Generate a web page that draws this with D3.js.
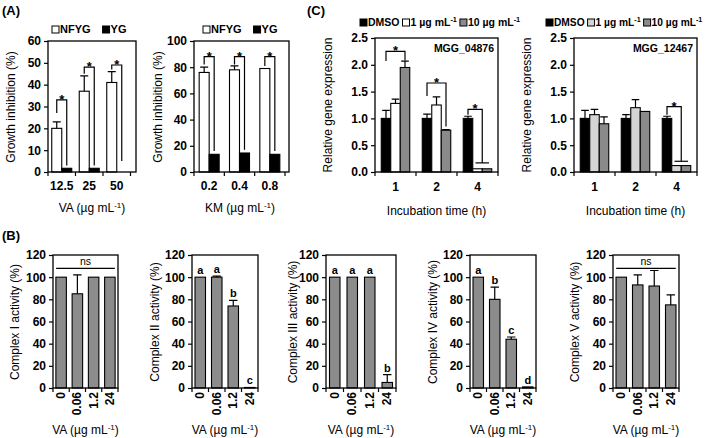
<!DOCTYPE html>
<html>
<head>
<meta charset="utf-8" />
<script src="https://d3js.org/d3.v7.min.js"></script>
<style>
  body { margin: 0; background: #fff; }
  svg text { font-family: "Liberation Sans", Arial, sans-serif; fill: #000; }
</style>
</head>
<body>
<svg id="fig" width="709" height="438"></svg>
<script>
// (A) growth inhibition
const vaConc = ["12.5", "25", "50"];
const nfygVA = [20, 37, 41];
const nfygVAErr = [3, 7, 5];
const ygVA = [1.7, 1.7, 0];
const kmConc = ["0.2", "0.4", "0.8"];
const nfygKM = [76, 78, 79];
const nfygKMErr = [4, 3, 0];
const ygKM = [13.5, 14.5, 13.5];
// significance brackets [top, left leg end, right leg end] in data units
const sigVA = [[33, 27, 3], [48, 45, 3], [49, 47, 5]];
const sigKM = [[88, 82, 16], [88, 82, 17], [88, 81, 16]];

// (B) complex activities
const vaDose = ["0", "0.06", "1.2", "24"];
const complexI = [100, 85, 100, 100];
const complexIErr = [0, 17, 0, 0];
const complexII = [100, 100, 74, 0.5];
const complexIIErr = [0, 1, 5, 0];
const complexIII = [100, 100, 100, 5];
const complexIIIErr = [0, 0, 0, 7];
const complexIV = [100, 80, 44, 1];
const complexIVErr = [0, 11, 2, 0];
const complexV = [100, 93, 92, 75];
const complexVErr = [0, 9, 14, 9];
const lettersII = ["a", "a", "b", "c"];
const lettersIII = ["a", "a", "a", "b"];
const lettersIV = ["a", "b", "c", "d"];

// (C) gene expression
const hours = ["1", "2", "4"];
const dmso04876 = [1.0, 1.0, 1.0];
const dmso04876Err = [0.15, 0.08, 0.04];
const low04876 = [1.28, 1.25, 0.06];
const low04876Err = [0.08, 0.15, 0];
const high04876 = [1.95, 0.78, 0.06];
const high04876Err = [0.12, 0.01, 0];
const dmso12467 = [1.0, 1.0, 1.0];
const dmso12467Err = [0.15, 0.07, 0.04];
const low12467 = [1.07, 1.2, 0.12];
const low12467Err = [0.1, 0.15, 0];
const high12467 = [0.9, 1.13, 0.12];
const high12467Err = [0.13, 0, 0];
const sig04876 = [[2.25, 2.07, 2.08], [1.66, 1.42, 0.85], [1.17, 1.07, 0.17]];
const sig12467 = [[1.22, 1.07, 0.2]];

const svg = d3.select("#fig");

function drawPanel(o) {
  const g = svg.append("g");
  const x = d3.scaleBand().domain(o.cats).range([o.left, o.right]);
  const y = d3.scaleLinear().domain([0, o.yMax]).range([o.bottom, o.top]);
  const n = o.series.length;
  const cx = (c, i) => x(c) + x.bandwidth() / 2 + (i - (n - 1) / 2) * o.barW;

  g.append("g")
    .attr("transform", `translate(${o.left},0)`)
    .call(d3.axisLeft(y).tickValues(o.yTicks).tickSize(4).tickPadding(3).tickFormat(o.fmt))
    .call(a => a.select(".domain").remove())
    .call(a => a.selectAll("line").attr("stroke-width", 1.2))
    .call(a => a.selectAll("text").attr("font-weight", "bold").attr("font-size", 12).attr("fill", "#000"));

  const bounds = o.cats.map(c => x(c)).concat([o.right]);
  g.selectAll(null).data(bounds).join("line")
    .attr("x1", d => d).attr("x2", d => d)
    .attr("y1", o.bottom).attr("y2", o.bottom + 4)
    .attr("stroke", "#000").attr("stroke-width", 1.2);

  o.series.forEach((s, i) => {
    g.selectAll(null).data(o.cats).join("rect")
      .attr("x", c => cx(c, i) - o.barW / 2)
      .attr("y", (c, j) => y(s.vals[j]))
      .attr("width", o.barW)
      .attr("height", (c, j) => o.bottom - y(s.vals[j]))
      .attr("fill", s.fill).attr("stroke", "#000").attr("stroke-width", 1.1);
    if (!s.errs) return;
    const eb = o.cats.map((c, j) => ({ c, v: s.vals[j], e: s.errs[j] })).filter(d => d.e > 0);
    const cap = o.barW * 0.4;
    g.selectAll(null).data(eb).join("path")
      .attr("d", d => `M${cx(d.c, i)},${y(d.v)}V${y(d.v + d.e)}M${cx(d.c, i) - cap},${y(d.v + d.e)}H${cx(d.c, i) + cap}`)
      .attr("fill", "none").attr("stroke", "#000").attr("stroke-width", 1.2);
  });

  g.append("rect")
    .attr("x", o.left).attr("y", o.top)
    .attr("width", o.boxRight - o.left).attr("height", o.bottom - o.top)
    .attr("fill", "none").attr("stroke", "#000").attr("stroke-width", 1.3);

  return { g, x, y, cx };
}

function bracket(g, x1, x2, yTop, yL, yR) {
  g.append("path")
    .attr("d", `M${x1},${yL}V${yTop}H${x2}V${yR}`)
    .attr("fill", "none").attr("stroke", "#000").attr("stroke-width", 1.2);
  g.append("text").attr("x", (x1 + x2) / 2).attr("y", yTop + 4)
    .attr("text-anchor", "middle").attr("font-weight", "bold").attr("font-size", 13).text("*");
}

function yTitle(x, y, label) {
  svg.append("text").attr("transform", `translate(${x},${y}) rotate(-90)`)
    .attr("text-anchor", "middle").attr("dominant-baseline", "central")
    .attr("font-size", 12).text(label);
}

function unitTitle(x, y, prefix) {
  const t = svg.append("text").attr("x", x).attr("y", y).attr("text-anchor", "middle").attr("font-size", 12);
  t.append("tspan").text(prefix + " (µg mL");
  t.append("tspan").attr("dy", -4).attr("font-size", 8).text("-1");
  t.append("tspan").attr("dy", 4).text(")");
}

function catLabels(p, cats, yy) {
  p.g.selectAll(null).data(cats).join("text")
    .attr("x", c => p.x(c) + p.x.bandwidth() / 2).attr("y", yy)
    .attr("text-anchor", "middle").attr("font-weight", "bold").attr("font-size", 12)
    .text(c => c);
}

function legend(x0, y0, items, fs) {
  let x = x0;
  items.forEach(it => {
    svg.append("rect").attr("x", x).attr("y", y0 - 7).attr("width", 7).attr("height", 7)
      .attr("fill", it.fill).attr("stroke", "#000").attr("stroke-width", 1);
    const t = svg.append("text").attr("x", x + 8).attr("y", y0).attr("font-size", fs).attr("font-weight", "bold");
    t.append("tspan").text(it.label);
    if (it.sup) t.append("tspan").attr("dy", -4).attr("font-size", fs * 0.7).text(it.sup);
    x += 8 + t.node().getComputedTextLength() + it.gap;
  });
}

// ---------- (A) ----------
const pA1 = drawPanel({
  cats: vaConc, left: 48, right: 130.5, boxRight: 136, top: 41, bottom: 172,
  yMax: 60, yTicks: d3.range(0, 61, 10), fmt: d3.format("d"), barW: 10,
  series: [{ vals: nfygVA, errs: nfygVAErr, fill: "#fff" }, { vals: ygVA, fill: "#000" }]
});
sigVA.forEach((s, j) => bracket(pA1.g, pA1.cx(vaConc[j], 0), pA1.cx(vaConc[j], 1), pA1.y(s[0]), pA1.y(s[1]), pA1.y(s[2])));
catLabels(pA1, vaConc, 190);

const pA2 = drawPanel({
  cats: kmConc, left: 194, right: 285, boxRight: 289, top: 41, bottom: 172,
  yMax: 100, yTicks: d3.range(0, 101, 20), fmt: d3.format("d"), barW: 10,
  series: [{ vals: nfygKM, errs: nfygKMErr, fill: "#fff" }, { vals: ygKM, fill: "#000" }]
});
sigKM.forEach((s, j) => bracket(pA2.g, pA2.cx(kmConc[j], 0), pA2.cx(kmConc[j], 1), pA2.y(s[0]), pA2.y(s[1]), pA2.y(s[2])));
catLabels(pA2, kmConc, 190);

yTitle(11, 107, "Growth inhibition (%)");
yTitle(158, 107, "Growth inhibition (%)");
unitTitle(92, 212, "VA");
unitTitle(240, 212, "KM");
legend(52, 33, [{ label: "NFYG", fill: "#fff", gap: 12 }, { label: "YG", fill: "#000", gap: 0 }], 11);
legend(203, 33, [{ label: "NFYG", fill: "#fff", gap: 12 }, { label: "YG", fill: "#000", gap: 0 }], 11);

// ---------- (C) ----------
function genePanel(left, right, dmso, dmsoE, low, lowE, high, highE, lowFill, sig, name) {
  const p = drawPanel({
    cats: hours, left, right, boxRight: right, top: 38, bottom: 172,
    yMax: 2.5, yTicks: d3.range(0, 2.51, 0.5), fmt: d3.format(".1f"), barW: 9.5,
    series: [
      { vals: dmso, errs: dmsoE, fill: "#000" },
      { vals: low, errs: lowE, fill: lowFill },
      { vals: high, errs: highE, fill: "#8a8a8a" }
    ]
  });
  const off = hours.length - sig.length;
  sig.forEach((s, k) => {
    const c = hours[k + off];
    if (c === "4") {
      const xm = (p.cx(c, 1) + p.cx(c, 2)) / 2;
      bracket(p.g, p.cx(c, 0), xm, p.y(s[0]), p.y(s[1]), p.y(s[2]));
      p.g.append("line").attr("x1", p.cx(c, 1) - 2).attr("x2", p.cx(c, 2) + 2)
        .attr("y1", p.y(s[2])).attr("y2", p.y(s[2])).attr("stroke", "#000").attr("stroke-width", 1.2);
    } else {
      bracket(p.g, p.cx(c, 0), p.cx(c, 2), p.y(s[0]), p.y(s[1]), p.y(s[2]));
    }
  });
  catLabels(p, hours, 191);
  p.g.append("text").attr("x", right - 4).attr("y", 52).attr("text-anchor", "end")
    .attr("font-weight", "bold").attr("font-size", 10.5).text(name);
  svg.append("text").attr("x", (left + right) / 2).attr("y", 215).attr("text-anchor", "middle")
    .attr("font-size", 12).text("Incubation time (h)");
  return p;
}
genePanel(375, 498, dmso04876, dmso04876Err, low04876, low04876Err, high04876, high04876Err, "#fff", sig04876, "MGG_04876");
genePanel(574, 697, dmso12467, dmso12467Err, low12467, low12467Err, high12467, high12467Err, "#d4d4d4", sig12467, "MGG_12467");
yTitle(328, 105, "Relative gene expression");
yTitle(527, 105, "Relative gene expression");
const legC = (x0, lowFill, fs) => legend(x0, 26, [
  { label: "DMSO", fill: "#000", gap: 3 },
  { label: "1 µg mL", sup: "-1", fill: lowFill, gap: 3 },
  { label: "10 µg mL", sup: "-1", fill: "#8a8a8a", gap: 0 }
], fs);
legC(360, "#fff", 10.5);
legC(546, "#d4d4d4", 10.2);

// ---------- (B) ----------
const bPanels = [
  { left: 53, right: 118, vals: complexI, errs: complexIErr, title: "Complex I activity (%)", tx: 15, ns: true },
  { left: 192, right: 258, vals: complexII, errs: complexIIErr, title: "Complex II activity (%)", tx: 155, letters: lettersII },
  { left: 326, right: 396, vals: complexIII, errs: complexIIIErr, title: "Complex III activity (%)", tx: 293, letters: lettersIII },
  { left: 470, right: 536, vals: complexIV, errs: complexIVErr, title: "Complex IV activity (%)", tx: 433, letters: lettersIV },
  { left: 613, right: 679, vals: complexV, errs: complexVErr, title: "Complex V activity (%)", tx: 575, ns: true }
];
bPanels.forEach(b => {
  const p = drawPanel({
    cats: vaDose, left: b.left, right: b.right, boxRight: b.right, top: 255, bottom: 388,
    yMax: 120, yTicks: d3.range(0, 121, 20), fmt: d3.format("d"), barW: 10.5,
    series: [{ vals: b.vals, errs: b.errs, fill: "#8c8c8c" }]
  });
  p.g.selectAll(null).data(vaDose).join("text")
    .attr("transform", c => `translate(${p.cx(c, 0) + 4},${392}) rotate(-90)`)
    .attr("text-anchor", "end").attr("font-weight", "bold").attr("font-size", 12).text(c => c);
  if (b.ns) {
    const x1 = p.cx(vaDose[0], 0) - 5, x2 = p.cx(vaDose[3], 0) + 5;
    p.g.append("line").attr("x1", x1).attr("x2", x2).attr("y1", p.y(108)).attr("y2", p.y(108))
      .attr("stroke", "#000").attr("stroke-width", 1.3);
    p.g.append("text").attr("x", (x1 + x2) / 2).attr("y", p.y(108) - 3).attr("text-anchor", "middle")
      .attr("font-size", 10.5).text("ns");
  }
  if (b.letters) {
    p.g.selectAll(null).data(vaDose).join("text")
      .attr("x", c => p.cx(c, 0))
      .attr("y", (c, j) => p.y(b.vals[j] + b.errs[j]) - 3)
      .attr("text-anchor", "middle").attr("font-weight", "bold").attr("font-size", 11)
      .text((c, j) => b.letters[j]);
  }
  yTitle(b.tx, 322, b.title);
  unitTitle((b.left + b.right) / 2, 434, "VA");
});

// panel labels
svg.append("text").attr("x", 2).attr("y", 15).attr("font-weight", "bold").attr("font-size", 13).text("(A)");
svg.append("text").attr("x", 2).attr("y", 240).attr("font-weight", "bold").attr("font-size", 13).text("(B)");
svg.append("text").attr("x", 307).attr("y", 15).attr("font-weight", "bold").attr("font-size", 13).text("(C)");
</script>
</body>
</html>
